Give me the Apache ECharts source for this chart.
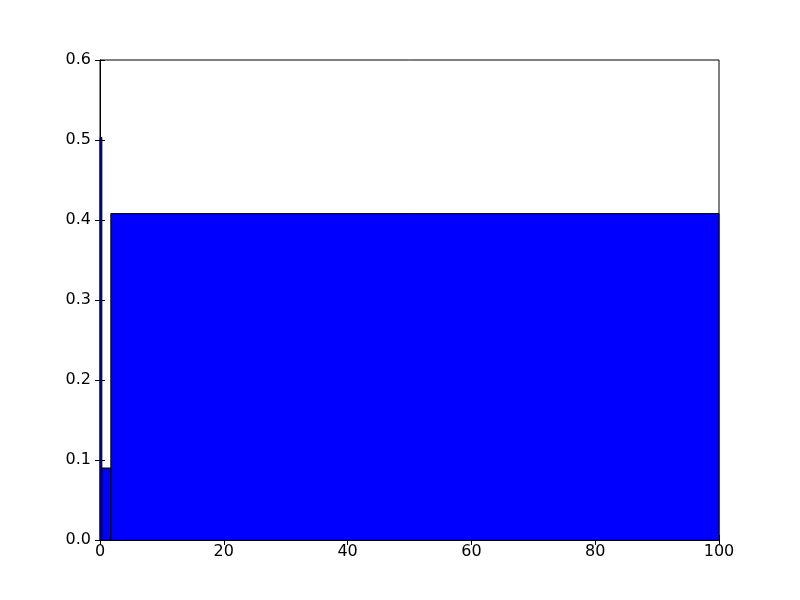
<!DOCTYPE html>
<html>
<head>
<meta charset="utf-8">
<script src="https://cdn.jsdelivr.net/npm/echarts@6/dist/echarts.min.js"></script>
<style>
  html, body { margin: 0; padding: 0; background: #fff; }
  #chart { width: 800px; height: 600px; }
</style>
</head>
<body>
<div id="chart"></div>
<script>
// histogram bins (left edge, right edge) and heights
var binLeft = [0, 0.3, 1.75];
var binRight = [0.3, 1.75, 100];
var binHeight = [0.503, 0.09, 0.408];
var xTicks = [0, 20, 40, 60, 80, 100];
var yTicks = [0.0, 0.1, 0.2, 0.3, 0.4, 0.5, 0.6];

var bars = binLeft.map(function (l, i) {
    return [l, binRight[i], binHeight[i]];
});

var myChart = echarts.init(document.getElementById('chart'));

var font = { fontFamily: 'DejaVu Sans', fontSize: 16, color: '#000' };
var tickStyle = { show: true, inside: true, length: 5, lineStyle: { color: '#000', width: 1 } };

var option = {
    animation: false,
    backgroundColor: '#fff',
    grid: { left: 100, right: 81, top: 60, bottom: 60, show: true, borderColor: '#000', borderWidth: 1 },
    xAxis: [{
        type: 'value', min: 0, max: 100, interval: 20,
        axisLine: { show: true, lineStyle: { color: '#000' } },
        axisTick: tickStyle,
        splitLine: { show: false },
        axisLabel: Object.assign({ margin: 4 }, font)
    }, {
        type: 'value', position: 'top', min: 0, max: 100, interval: 20,
        axisLine: { show: true, lineStyle: { color: '#000' } },
        axisTick: tickStyle,
        splitLine: { show: false },
        axisLabel: { show: false }
    }],
    yAxis: [{
        type: 'value', min: 0, max: 0.6, interval: 0.1,
        axisLine: { show: true, lineStyle: { color: '#000' } },
        axisTick: tickStyle,
        splitLine: { show: false },
        axisLabel: Object.assign({ margin: 9, formatter: function (v) { return v.toFixed(1); } }, font)
    }, {
        type: 'value', position: 'right', min: 0, max: 0.6, interval: 0.1,
        axisLine: { show: true, lineStyle: { color: '#000' } },
        axisTick: tickStyle,
        splitLine: { show: false },
        axisLabel: { show: false }
    }],
    series: [{
        type: 'custom',
        xAxisIndex: 0,
        yAxisIndex: 0,
        renderItem: function (params, api) {
            var p0 = api.coord([api.value(0), api.value(2)]);
            var p1 = api.coord([api.value(1), 0]);
            return {
                type: 'rect',
                shape: { x: p0[0], y: p0[1], width: p1[0] - p0[0], height: p1[1] - p0[1] },
                style: { fill: '#0000ff', stroke: '#000', lineWidth: 1 }
            };
        },
        encode: { x: [0, 1], y: 2 },
        data: bars,
        z: 1
    }]
};

myChart.setOption(option);
window.addEventListener('resize', function () {
    myChart.resize();
});
</script>
</body>
</html>
